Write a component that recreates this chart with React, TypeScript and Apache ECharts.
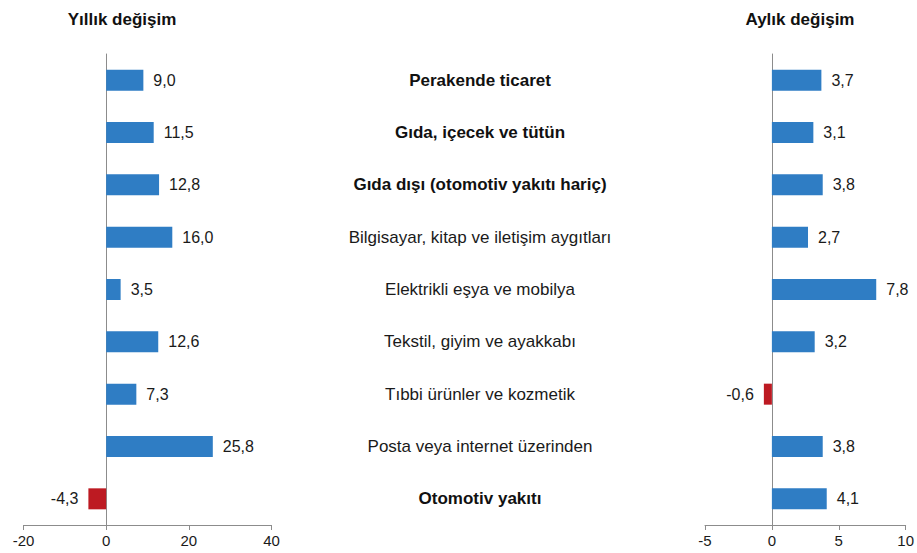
import React, { useEffect, useRef } from "react";
import * as echarts from "echarts";

const categories = [
  "Perakende ticaret",
  "Gıda, içecek ve tütün",
  "Gıda dışı (otomotiv yakıtı hariç)",
  "Bilgisayar, kitap ve iletişim aygıtları",
  "Elektrikli eşya ve mobilya",
  "Tekstil, giyim ve ayakkabı",
  "Tıbbi ürünler ve kozmetik",
  "Posta veya internet üzerinden",
  "Otomotiv yakıtı",
];
const boldRows = [true, true, true, false, false, false, false, false, true];
const annualChange = [9.0, 11.5, 12.8, 16.0, 3.5, 12.6, 7.3, 25.8, -4.3];
const monthlyChange = [3.7, 3.1, 3.8, 2.7, 7.8, 3.2, -0.6, 3.8, 4.1];
const titles = ["Yıllık değişim", "Aylık değişim"];

const BLUE = "#2f7dc4";
const RED = "#bd1a22";
const FONT = "'Liberation Sans', Arial, sans-serif";

function barData(vals: number[]) {
  return vals.map((v) => ({
    value: v,
    itemStyle: { color: v < 0 ? RED : BLUE },
    label: { position: v < 0 ? "left" : "right" },
  }));
}

export default function App() {
  const ref = useRef<HTMLDivElement>(null);
  useEffect(() => {
    if (!ref.current) return;
    const chart = echarts.init(ref.current, null, { renderer: "svg" });
    const top = 54;
    const bottom = 28;
    const axisCommon = {
      axisLine: { show: true, lineStyle: { color: "#8c8c8c", width: 1 } },
      axisTick: { show: true, length: 5, lineStyle: { color: "#8c8c8c" } },
      axisLabel: { color: "#1a1a1a", fontSize: 15, fontFamily: FONT, margin: 8 },
      splitLine: { show: false },
    };
    const catAxisCommon = {
      type: "category",
      data: categories,
      inverse: true,
      axisTick: { show: false },
      axisLabel: { show: false },
      axisLine: { show: true, onZero: true, lineStyle: { color: "#8c8c8c", width: 1 } },
    };
    const labelCommon = {
      show: true,
      distance: 10,
      color: "#1a1a1a",
      fontSize: 16,
      fontFamily: FONT,
      formatter: (p: any) => p.value.toFixed(1).replace(".", ","),
    };
    chart.setOption({
      animation: false,
      backgroundColor: "#ffffff",
      textStyle: { fontFamily: FONT },
      graphic: [
        {
          type: "text",
          x: 122,
          y: 19,
          style: {
            text: titles[0],
            font: `bold 17px ${FONT}`,
            fill: "#111",
            textAlign: "center",
            textVerticalAlign: "middle",
          },
        },
        {
          type: "text",
          x: 800,
          y: 19,
          style: {
            text: titles[1],
            font: `bold 17px ${FONT}`,
            fill: "#111",
            textAlign: "center",
            textVerticalAlign: "middle",
          },
        },
      ],
      grid: [
        { left: 23.5, width: 248, top, bottom },
        { left: 705, width: 203, top, bottom },
        { left: 480, width: 1, top, bottom },
      ],
      xAxis: [
        { type: "value", gridIndex: 0, min: -20, max: 40, interval: 20, ...axisCommon },
        { type: "value", gridIndex: 1, min: -5, max: 10, interval: 5, ...axisCommon },
        { type: "value", gridIndex: 2, show: false, min: 0, max: 1 },
      ],
      yAxis: [
        { gridIndex: 0, ...catAxisCommon },
        { gridIndex: 1, ...catAxisCommon },
        {
          gridIndex: 2,
          type: "category",
          data: categories,
          inverse: true,
          axisLine: { show: false },
          axisTick: { show: false },
          axisLabel: {
            show: true,
            align: "center",
            margin: 0,
            formatter: (v: string, i: number) => (boldRows[i] ? `{b|${v}}` : `{n|${v}}`),
            rich: {
              b: { fontWeight: "bold", fontSize: 17, fontFamily: FONT, color: "#111" },
              n: { fontWeight: "normal", fontSize: 17, fontFamily: FONT, color: "#1a1a1a" },
            },
          },
        },
      ],
      series: [
        {
          type: "bar",
          xAxisIndex: 0,
          yAxisIndex: 0,
          barWidth: 21,
          data: barData(annualChange),
          label: labelCommon,
        },
        {
          type: "bar",
          xAxisIndex: 1,
          yAxisIndex: 1,
          barWidth: 21,
          data: barData(monthlyChange),
          label: labelCommon,
        },
      ],
    });
    return () => chart.dispose();
  }, []);
  return (
    <div
      ref={ref}
      style={{ position: "absolute", left: 0, top: 0, width: 917, height: 553 }}
    />
  );
}
